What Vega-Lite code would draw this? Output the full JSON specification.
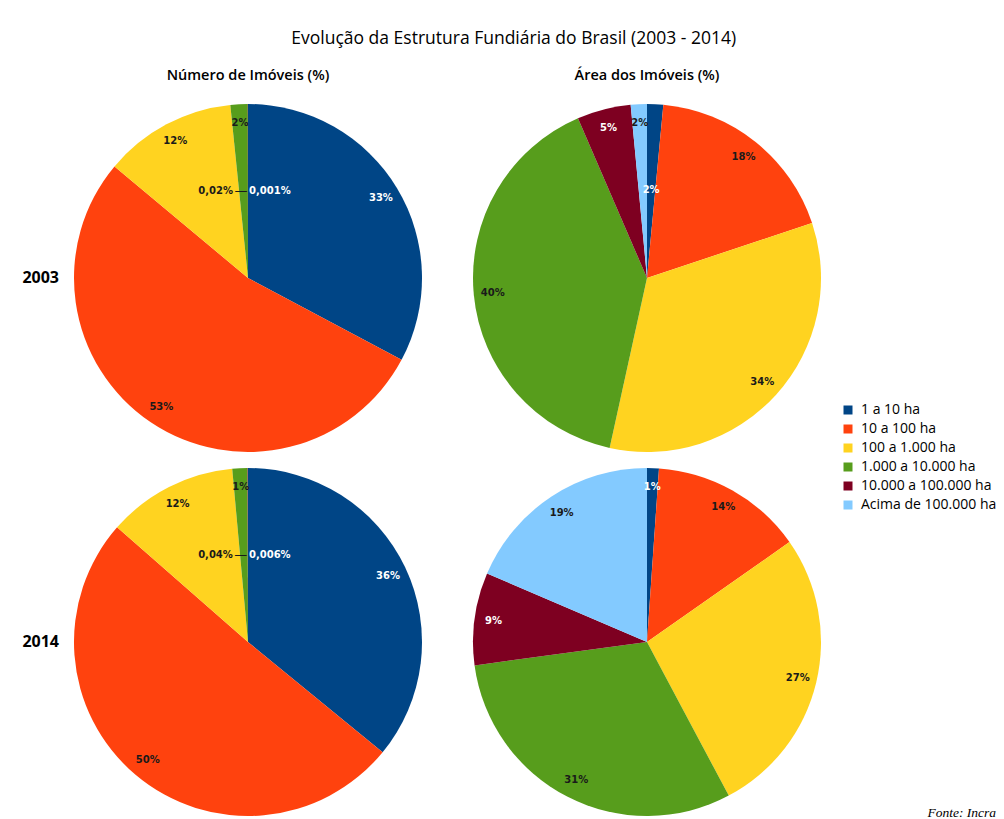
{
  "$schema": "https://vega.github.io/schema/vega-lite/v6.json",
  "background": "white",
  "padding": {"left": 22, "top": 30, "right": 5, "bottom": 0},
  "title": {"text": "Evolução da Estrutura Fundiária do Brasil (2003 - 2014)", "font": "Open Sans", "fontSize": 17.5, "fontWeight": "normal", "color": "#000000", "anchor": "middle", "offset": 20, "dx": 4},
  "data": {"values": [
    {"serie": "Número de Imóveis (%)", "ano": "2003", "classe": "1 a 10 ha", "k": 1, "valor": 32.8, "rotulo": "33%"},
    {"serie": "Número de Imóveis (%)", "ano": "2003", "classe": "10 a 100 ha", "k": 2, "valor": 53.3, "rotulo": "53%"},
    {"serie": "Número de Imóveis (%)", "ano": "2003", "classe": "100 a 1.000 ha", "k": 3, "valor": 12.3, "rotulo": "12%"},
    {"serie": "Número de Imóveis (%)", "ano": "2003", "classe": "1.000 a 10.000 ha", "k": 4, "valor": 1.6, "rotulo": "2%"},
    {"serie": "Número de Imóveis (%)", "ano": "2003", "classe": "10.000 a 100.000 ha", "k": 5, "valor": 0.02, "rotulo": "0,02%"},
    {"serie": "Número de Imóveis (%)", "ano": "2003", "classe": "Acima de 100.000 ha", "k": 6, "valor": 0.001, "rotulo": "0,001%"},
    {"serie": "Número de Imóveis (%)", "ano": "2014", "classe": "1 a 10 ha", "k": 1, "valor": 35.9, "rotulo": "36%"},
    {"serie": "Número de Imóveis (%)", "ano": "2014", "classe": "10 a 100 ha", "k": 2, "valor": 50.5, "rotulo": "50%"},
    {"serie": "Número de Imóveis (%)", "ano": "2014", "classe": "100 a 1.000 ha", "k": 3, "valor": 12.1, "rotulo": "12%"},
    {"serie": "Número de Imóveis (%)", "ano": "2014", "classe": "1.000 a 10.000 ha", "k": 4, "valor": 1.4, "rotulo": "1%"},
    {"serie": "Número de Imóveis (%)", "ano": "2014", "classe": "10.000 a 100.000 ha", "k": 5, "valor": 0.04, "rotulo": "0,04%"},
    {"serie": "Número de Imóveis (%)", "ano": "2014", "classe": "Acima de 100.000 ha", "k": 6, "valor": 0.006, "rotulo": "0,006%"},
    {"serie": "Área dos Imóveis (%)", "ano": "2003", "classe": "1 a 10 ha", "k": 1, "valor": 1.5, "rotulo": "2%"},
    {"serie": "Área dos Imóveis (%)", "ano": "2003", "classe": "10 a 100 ha", "k": 2, "valor": 18.4, "rotulo": "18%"},
    {"serie": "Área dos Imóveis (%)", "ano": "2003", "classe": "100 a 1.000 ha", "k": 3, "valor": 33.6, "rotulo": "34%"},
    {"serie": "Área dos Imóveis (%)", "ano": "2003", "classe": "1.000 a 10.000 ha", "k": 4, "valor": 40.1, "rotulo": "40%"},
    {"serie": "Área dos Imóveis (%)", "ano": "2003", "classe": "10.000 a 100.000 ha", "k": 5, "valor": 5.0, "rotulo": "5%"},
    {"serie": "Área dos Imóveis (%)", "ano": "2003", "classe": "Acima de 100.000 ha", "k": 6, "valor": 1.5, "rotulo": "2%"},
    {"serie": "Área dos Imóveis (%)", "ano": "2014", "classe": "1 a 10 ha", "k": 1, "valor": 1.1, "rotulo": "1%"},
    {"serie": "Área dos Imóveis (%)", "ano": "2014", "classe": "10 a 100 ha", "k": 2, "valor": 14.2, "rotulo": "14%"},
    {"serie": "Área dos Imóveis (%)", "ano": "2014", "classe": "100 a 1.000 ha", "k": 3, "valor": 27.0, "rotulo": "27%"},
    {"serie": "Área dos Imóveis (%)", "ano": "2014", "classe": "1.000 a 10.000 ha", "k": 4, "valor": 30.7, "rotulo": "31%"},
    {"serie": "Área dos Imóveis (%)", "ano": "2014", "classe": "10.000 a 100.000 ha", "k": 5, "valor": 8.6, "rotulo": "9%"},
    {"serie": "Área dos Imóveis (%)", "ano": "2014", "classe": "Acima de 100.000 ha", "k": 6, "valor": 18.6, "rotulo": "19%"}
  ]},
  "facet": {
    "row": {"field": "ano", "type": "nominal", "title": null,
      "header": {"labelAngle": 0, "labelAlign": "left", "labelPadding": 14, "labelFont": "Open Sans", "labelFontSize": 16, "labelFontWeight": "bold", "labelColor": "#000000"}},
    "column": {"field": "serie", "type": "nominal", "sort": ["Número de Imóveis (%)", "Área dos Imóveis (%)"], "title": null,
      "header": {"labelFont": "Open Sans", "labelFontSize": 14.5, "labelFontWeight": 600, "labelColor": "#000000", "labelPadding": 20}}
  },
  "spacing": {"row": 14, "column": 49},
  "spec": {
    "width": 350,
    "height": 350,
    "encoding": {
      "theta": {"field": "valor", "type": "quantitative", "stack": "normalize"},
      "order": {"field": "k", "type": "quantitative"},
      "detail": {"field": "classe", "type": "nominal"}
    },
    "layer": [
      {
        "mark": {"type": "arc", "outerRadius": 174, "stroke": null},
        "encoding": {
          "color": {"field": "classe", "type": "nominal",
            "scale": {"domain": ["1 a 10 ha", "10 a 100 ha", "100 a 1.000 ha", "1.000 a 10.000 ha", "10.000 a 100.000 ha", "Acima de 100.000 ha"],
                      "range": ["#004586", "#ff420e", "#ffd320", "#579d1c", "#7e0021", "#83caff"]},
            "legend": {"title": "Fonte: Incra", "titleOrient": "bottom", "titleAnchor": "end", "titlePadding": 294, "titleFont": "Liberation Serif", "titleFontSize": 13.5, "titleFontStyle": "italic", "titleFontWeight": "normal", "titleColor": "#000000", "orient": "none", "legendX": 768, "legendY": 300}}
        }
      },
      {
        "mark": {"type": "text", "radius": 155, "font": "DejaVu Sans", "fontSize": 10, "fontWeight": "bold"},
        "encoding": {
          "text": {"condition": {"test": "datum.valor >= 0.5 && !(datum.serie == 'Área dos Imóveis (%)' && datum.ano == '2003' && datum.k == 1)", "field": "rotulo"}, "value": ""},
          "color": {"condition": {"test": "datum.k == 1 || datum.k == 5", "value": "#ffffff"}, "value": "#1a1a1a"}
        }
      },
      {
        "mark": {"type": "text", "radius": 88, "font": "DejaVu Sans", "fontSize": 10, "fontWeight": "bold", "color": "#ffffff"},
        "encoding": {
          "text": {"condition": {"test": "datum.serie == 'Área dos Imóveis (%)' && datum.ano == '2003' && datum.k == 1", "field": "rotulo"}, "value": ""}
        }
      },
      {
        "mark": {"type": "text", "radius": 87, "font": "DejaVu Sans", "fontSize": 10, "fontWeight": "bold", "color": "#1a1a1a", "align": "right", "dx": -15},
        "encoding": {
          "text": {"condition": {"test": "datum.valor < 0.5 && datum.k == 5", "field": "rotulo"}, "value": ""}
        }
      },
      {
        "mark": {"type": "text", "radius": 87, "font": "DejaVu Sans", "fontSize": 10, "fontWeight": "bold", "color": "#ffffff", "align": "left", "dx": 1},
        "encoding": {
          "text": {"condition": {"test": "datum.valor < 0.5 && datum.k == 6", "field": "rotulo"}, "value": ""}
        }
      },
      {
        "mark": {"type": "text", "radius": 87, "font": "DejaVu Sans", "fontSize": 13, "color": "#1a1a1a", "align": "center", "dx": -7},
        "encoding": {
          "text": {"condition": {"test": "datum.valor < 0.5 && datum.k == 5", "value": "—"}, "value": ""}
        }
      }
    ]
  },
  "config": {
    "view": {"stroke": null},
    "legend": {"symbolType": "square", "symbolSize": 81, "symbolStrokeWidth": 0, "labelFont": "Open Sans", "labelFontSize": 14, "labelColor": "#000000", "rowPadding": 5, "labelOffset": 6}
  }
}
